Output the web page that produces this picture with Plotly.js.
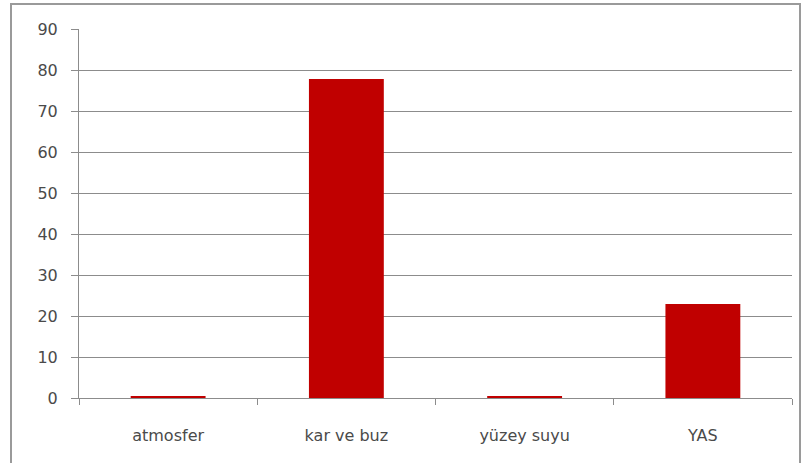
<!DOCTYPE html>
<html><head><meta charset="utf-8">
<script src="https://cdn.plot.ly/plotly-3.0.1.min.js"></script>
<style>
html,body{margin:0;padding:0;background:#fff;}
#wrap{position:relative;width:807px;height:463px;overflow:hidden;}
#chart{width:807px;height:463px;}
#frame{position:absolute;left:10px;top:3px;width:791px;height:480px;border:2px solid #9a9a9a;box-sizing:border-box;pointer-events:none;}
</style></head>
<body><div id="wrap"><div id="chart"></div><div id="frame"></div></div>
<script>
const categories = ["atmosfer", "kar ve buz", "yüzey suyu", "YAS"];
const values = [0.5, 77.8, 0.5, 22.9];
const yTicks = [0, 10, 20, 30, 40, 50, 60, 70, 80, 90];

Plotly.newPlot('chart', [{
  type: 'bar', x: categories, y: values,
  marker: {color: '#c00000'}, hoverinfo: 'none'
}], {
  width: 807, height: 463,
  margin: {l: 79, r: 15, t: 29, b: 65},
  paper_bgcolor: '#fff', plot_bgcolor: '#fff',
  bargap: 0.58, showlegend: false,
  font: {family: 'DejaVu Sans', size: 16, color: '#4a4a4a'},
  xaxis: {
    showline: true, linecolor: '#8c8c8c', linewidth: 1,
    ticks: 'outside', tickson: 'boundaries', ticklen: 6, tickcolor: '#8c8c8c',
    ticklabelstandoff: 23, showgrid: false,
    tickfont: {family: 'DejaVu Sans', size: 16, color: '#4a4a4a'}
  },
  yaxis: {
    range: [0, 90], tickvals: yTicks, showline: true, linecolor: '#8c8c8c', linewidth: 1,
    ticks: 'outside', ticklen: 7, tickcolor: '#8c8c8c',
    gridcolor: '#8c8c8c', gridwidth: 1, zeroline: false,
    ticklabelstandoff: 10,
    tickfont: {family: 'DejaVu Sans', size: 16, color: '#4a4a4a'}
  }
}, {staticPlot: true});
</script></body></html>
